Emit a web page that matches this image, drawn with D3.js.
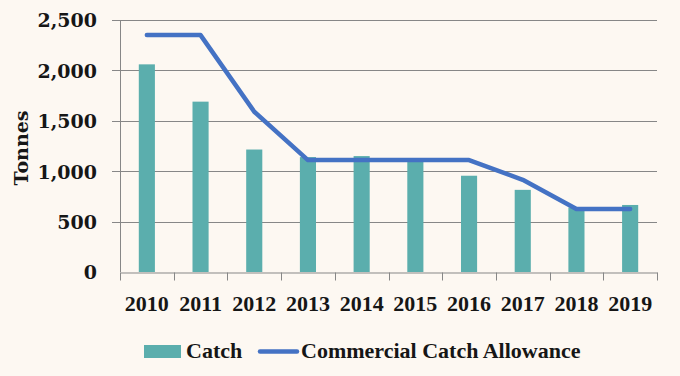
<!DOCTYPE html>
<html>
<head>
<meta charset="utf-8">
<script src="https://cdn.jsdelivr.net/npm/d3@7"></script>
<style>
  html, body { margin: 0; padding: 0; background: #fdf8f2; }
  svg { display: block; }
</style>
</head>
<body>
<svg id="chart"></svg>
<script>
// values
const years = ['2010', '2011', '2012', '2013', '2014', '2015', '2016', '2017', '2018', '2019'];
const catchTonnes = [2060, 1690, 1215, 1140, 1150, 1115, 955, 815, 640, 665];
const allowance = [2350, 2350, 1590, 1110, 1110, 1110, 1110, 915, 625, 625];
const yTicks = [0, 500, 1000, 1500, 2000, 2500];

const width = 680;
const height = 376;
const margin = { top: 20, right: 23, bottom: 104, left: 120 };

const barColor = '#5baead';
const lineColor = '#4472c4';
const gridColor = '#878787';
const textColor = '#161616';

const svg = d3.select('#chart').attr('width', width).attr('height', height);

svg.append('rect').attr('width', width).attr('height', height).attr('fill', '#fdf8f2');

const x = d3.scaleBand()
  .domain(years)
  .range([margin.left, width - margin.right]);

const y = d3.scaleLinear()
  .domain([0, 2500])
  .range([height - margin.bottom, margin.top]);

const chart = svg.append('g');

// horizontal grid + y tick labels
const yAxis = chart.append('g')
  .attr('transform', `translate(${margin.left},0)`)
  .call(d3.axisLeft(y).tickValues(yTicks).tickSize(8).tickFormat(d3.format(',')));

yAxis.selectAll('.tick line').remove();
yAxis.select('.domain').attr('stroke', gridColor).attr('d', `M0.5,${y(2500)}V${y(0)}`);
yAxis.selectAll('.tick text')
  .attr('x', -23)
  .attr('dy', '0.36em')
  .attr('fill', textColor)
  .attr('font-family', '"DejaVu Serif", serif')
  .attr('font-weight', 'bold')
  .attr('font-size', 19);

chart.append('g')
  .attr('class', 'grid')
  .selectAll('line')
  .data(yTicks.filter((d) => d > 0))
  .join('line')
  .attr('x1', margin.left - 8)
  .attr('x2', width - margin.right)
  .attr('y1', (d) => Math.round(y(d)) + 0.5)
  .attr('y2', (d) => Math.round(y(d)) + 0.5)
  .attr('stroke', gridColor);

// bars
const barW = x.bandwidth() * 0.3;
chart.append('g')
  .attr('class', 'bars')
  .selectAll('rect')
  .data(years)
  .join('rect')
  .attr('x', (d) => x(d) + (x.bandwidth() - barW) / 2)
  .attr('y', (d, i) => y(catchTonnes[i]))
  .attr('width', barW)
  .attr('height', (d, i) => y(0) - y(catchTonnes[i]))
  .attr('fill', barColor);

// x axis
const xAxis = chart.append('g')
  .attr('transform', `translate(0,${Math.round(y(0)) + 0.5})`)
  .call(d3.axisBottom(x).tickSize(0).tickSizeOuter(0));

xAxis.select('.domain').attr('stroke', gridColor);
xAxis.selectAll('.tick text')
  .attr('y', 38)
  .attr('dy', 0)
  .attr('fill', textColor)
  .attr('font-family', '"Liberation Serif", serif')
  .attr('font-weight', 'bold')
  .attr('font-size', 22);

// tick marks between categories
const boundaries = years.map((d) => x(d)).concat([x.range()[1]]);
xAxis.append('g')
  .selectAll('line')
  .data(boundaries)
  .join('line')
  .attr('x1', (d) => Math.round(d) + 0.5)
  .attr('x2', (d) => Math.round(d) + 0.5)
  .attr('y1', 0)
  .attr('y2', 8)
  .attr('stroke', gridColor);

// allowance line
const line = d3.line()
  .x((d, i) => x(years[i]) + x.bandwidth() / 2)
  .y((d) => y(d));

chart.append('path')
  .datum(allowance)
  .attr('d', line)
  .attr('fill', 'none')
  .attr('stroke', lineColor)
  .attr('stroke-width', 4.5)
  .attr('stroke-linecap', 'round')
  .attr('stroke-linejoin', 'round');

// y title
svg.append('text')
  .attr('transform', `translate(28,${(y(0) + y(2500)) / 2 + 2})rotate(-90)`)
  .attr('text-anchor', 'middle')
  .attr('fill', textColor)
  .attr('font-family', '"DejaVu Serif", serif')
  .attr('font-weight', 'bold')
  .attr('font-size', 19)
  .text('Tonnes');

// legend
const legend = svg.append('g')
  .attr('font-family', '"Liberation Serif", serif')
  .attr('font-weight', 'bold')
  .attr('font-size', 22)
  .attr('fill', textColor);

legend.append('rect')
  .attr('x', 144).attr('y', 345)
  .attr('width', 37).attr('height', 13)
  .attr('fill', barColor);
legend.append('text').attr('x', 186).attr('y', 358).text('Catch');

legend.append('line')
  .attr('x1', 260).attr('x2', 297)
  .attr('y1', 351.5).attr('y2', 351.5)
  .attr('stroke', lineColor)
  .attr('stroke-width', 4.5)
  .attr('stroke-linecap', 'round');
legend.append('text').attr('x', 301).attr('y', 358).text('Commercial Catch Allowance');
</script>
</body>
</html>
